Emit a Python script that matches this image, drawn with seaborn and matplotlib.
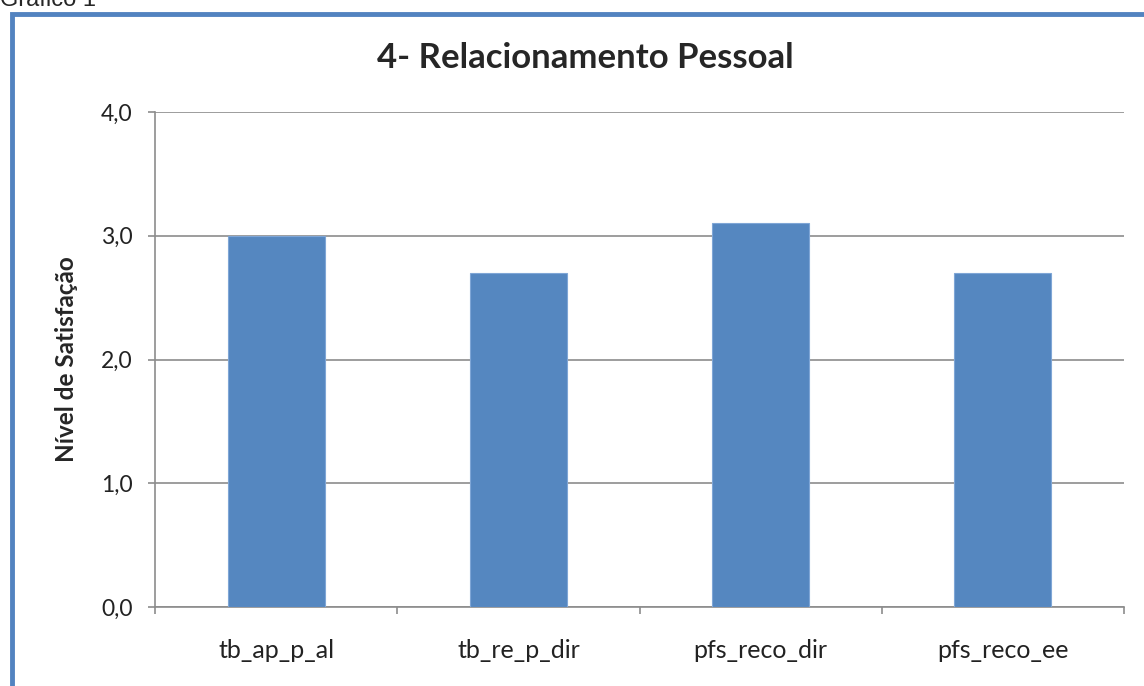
import matplotlib
matplotlib.use("Agg")
import matplotlib.pyplot as plt
import matplotlib.ticker as mticker
from matplotlib.patches import Rectangle
import seaborn as sns
import pandas as pd

# dados do gráfico
categorias = ["tb_ap_p_al", "tb_re_p_dir", "pfs_reco_dir", "pfs_reco_ee"]
valores = [3.0, 2.7, 3.1, 2.7]
titulo = "4- Relacionamento Pessoal"
rotulo_y = "Nível de Satisfação"

sns.set_style("white")
plt.rcParams["font.family"] = ["Lato", "DejaVu Sans"]

df = pd.DataFrame({"cat": categorias, "val": valores})

fig = plt.figure(figsize=(11.44, 6.86), dpi=100)
ax = fig.add_axes([155 / 1144, 1 - 607 / 686, 969 / 1144, 495 / 686])

sns.barplot(data=df, x="cat", y="val", ax=ax, width=0.4, color="#5587C0",
            saturation=1, edgecolor="#7FA6D6", linewidth=0.8, zorder=3)

ax.set_ylim(0, 4)
ax.set_xlim(-0.5, 3.5)
ax.set_yticks([0, 1, 2, 3, 4])
ax.yaxis.set_major_formatter(mticker.FuncFormatter(lambda v, p: f"{v:.1f}".replace(".", ",")))
ax.yaxis.grid(True, color="#8C8C8C", linewidth=1.2, zorder=0)
ax.set_axisbelow(True)

for s in ["top", "right"]:
    ax.spines[s].set_visible(False)
for s in ["left", "bottom"]:
    ax.spines[s].set_color("#8C8C8C")
    ax.spines[s].set_linewidth(1.2)

ax.tick_params(axis="y", which="major", direction="out", length=5, width=1.2,
               color="#8C8C8C", labelsize=16.5, pad=11, left=True,
               labelcolor="#222222")
ax.set_xticks([-0.5, 0.5, 1.5, 2.5, 3.5], minor=True)
ax.tick_params(axis="x", which="minor", direction="out", length=5, width=1.2,
               color="#8C8C8C", bottom=True)
ax.tick_params(axis="x", which="major", length=0, labelsize=18, pad=23,
               labelcolor="#222222")

ax.set_xlabel("")
ax.set_ylabel(rotulo_y, fontsize=17.5, fontweight="bold", labelpad=17)
ax.set_title(titulo, fontsize=25, fontweight="bold", pad=32, x=0.444)

# moldura azul e rótulo de cima
fig.patches.append(Rectangle((11.5 / 1144, -0.1), 1.2, 1 - 13.5 / 686 + 0.1,
                             transform=fig.transFigure, fill=False,
                             edgecolor="#5283C0", linewidth=3.5))
fig.text(0.0, 1 - 6 / 686, "Gráfico 1", family=["Liberation Sans", "DejaVu Sans"],
         fontsize=17, va="baseline", ha="left")

fig.savefig("out.png", dpi=100)
